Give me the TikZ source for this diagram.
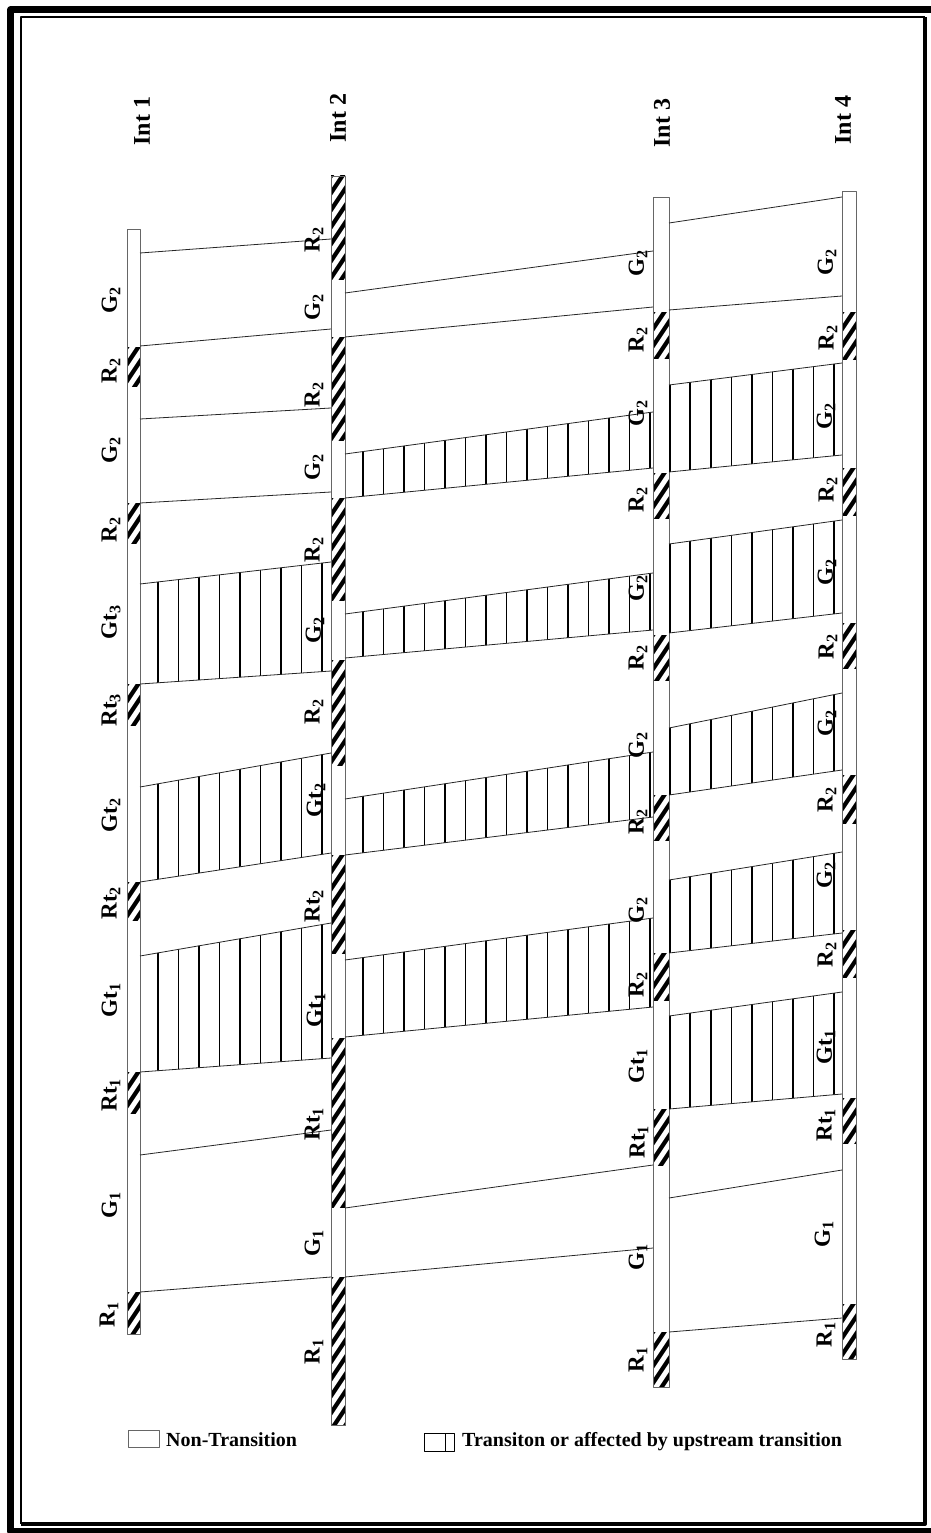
\documentclass[tikz,border=0pt]{standalone}
\usepackage{fontspec}
\setmainfont{Liberation Serif}
\tikzset{
  traj/.style={line width=0.8pt, black!85},
  barbox/.style={draw=black!60, line width=0.6pt},
  stripe/.style={line width=4.2pt, black},
  vfill/.style={line width=1.6pt, black},
  lab/.style={rotate=90, font=\fontsize{23}{23}\selectfont\bfseries, inner sep=0pt},
  intlab/.style={rotate=90, font=\fontsize{24}{24}\selectfont\bfseries, inner sep=0pt},
  legtext/.style={font=\fontsize{20}{20}\selectfont\bfseries, inner sep=0pt},
}
% hatched segment: x0 x1 y0 y1
\newcommand\hatchseg[4]{%
  \begin{scope}
  \clip (#1,#3) rectangle (#2,#4);
  \pgfmathsetmacro\hsA{#3}%
  \pgfmathsetmacro\hsB{#3+17}%
  \pgfmathsetmacro\hsC{#4+40}%
  \foreach \s in {\hsA,\hsB,...,\hsC}
    \draw[stripe] (#1-3,\s+4.5) -- (#2+3,\s-1.5*#2+1.5*#1-4.5);
  \end{scope}}
% band: xL xR t1 t2 b1 b2 {xlist}
\newcommand\band[7]{%
  \begin{scope}
  \clip (#1,#3) -- (#2,#4) -- (#2,#6) -- (#1,#5) -- cycle;
  \foreach \vx in {#7} \draw[vfill] (\vx,0) -- (\vx,1533);
  \end{scope}
  \draw[traj] (#1,#3) -- (#2,#4);
  \draw[traj] (#1,#5) -- (#2,#6);}
\newcommand\sigbar[4]{\draw[barbox] (#1,#3) rectangle (#2,#4);}
\newcommand\lab[4]{\node[lab] (#1) at (#2,#3) {#4};}
\newcommand\Gs[1]{G\textsubscript{#1}}
\newcommand\Rs[1]{R\textsubscript{#1}}
\newcommand\Gts[1]{Gt\textsubscript{#1}}
\newcommand\Rts[1]{Rt\textsubscript{#1}}
\begin{document}
\begin{tikzpicture}[x=1pt,y=-1pt,line join=round]
\useasboundingbox (0,0) rectangle (930,1533);
\fill[white] (0,0) rectangle (930,1533);
% frame
\draw[line width=7pt] (10.5,10) rectangle (940,1531);
\draw[line width=2.5pt] (925,17) -- (21,17) -- (21,1524);
\draw[line width=4pt] (21,1524) -- (925,1524) -- (925,17);

% ---------- hatching ----------
\foreach \a/\b in {347/386,503/543,684/725,882/920,1072/1113,1292/1334}
  {\hatchseg{127}{140}{\a}{\b}}
\foreach \a/\b in {176/279,337/440,498/600,660/765,855/953,1038/1207,1277/1425}
  {\hatchseg{331}{345}{\a}{\b}}
\foreach \a/\b in {312/358,473/518,635/680,795/840,953/1000,1109/1165,1332/1387}
  {\hatchseg{653}{669}{\a}{\b}}
\foreach \a/\b in {312/359,468/515,623/668,775/823,930/977,1098/1143,1304/1359}
  {\hatchseg{842}{856}{\a}{\b}}

% ---------- bars ----------
\sigbar{127}{140}{229}{1334}
\sigbar{331}{345}{176}{1425}
\sigbar{653}{669}{197}{1387}
\sigbar{842}{856}{191}{1359}

% ---------- Int1 -> Int2 ----------
\draw[traj] (140,253) -- (331,239);
\draw[traj] (140,346) -- (331,329);
\draw[traj] (140,419) -- (331,408);
\draw[traj] (140,503) -- (331,492);
\band{140}{331}{584}{562}{684}{671}{158,178.5,199,219.5,240,260.5,281,301.5,322}
\band{140}{331}{787}{753}{882}{853}{158,178.5,199,219.5,240,260.5,281,301.5,322}
\band{140}{331}{956}{923}{1072}{1058}{158,178.5,199,219.5,240,260.5,281,301.5,322}
\draw[traj] (140,1155) -- (331,1130);
\draw[traj] (140,1292) -- (331,1277);

% ---------- Int2 -> Int3 ----------
\draw[traj] (345,293) -- (653,251);
\draw[traj] (345,337) -- (653,307);
\band{345}{653}{454}{412}{498}{468}{363,383.5,404,424.5,445,465.5,486,506.5,527,547.5,568,588.5,609,629.5,650}
\band{345}{653}{614}{573}{658}{630}{363,383.5,404,424.5,445,465.5,486,506.5,527,547.5,568,588.5,609,629.5,650}
\band{345}{653}{799}{752}{855}{817}{363,383.5,404,424.5,445,465.5,486,506.5,527,547.5,568,588.5,609,629.5,650}
\band{345}{653}{960}{918}{1037}{1007}{363,383.5,404,424.5,445,465.5,486,506.5,527,547.5,568,588.5,609,629.5,650}
\draw[traj] (345,1208) -- (653,1165);
\draw[traj] (345,1277) -- (653,1248);

% ---------- Int3 -> Int4 ----------
\draw[traj] (669,223) -- (842,197);
\draw[traj] (669,310) -- (842,296);
\band{669}{842}{385}{363}{472}{455}{669.8,690,710.7,731.3,752,772.5,793,813.5,834}
\band{669}{842}{544}{520}{633}{613}{669.8,690,710.7,731.3,752,772.5,793,813.5,834}
\band{669}{842}{728}{693}{795}{770}{669.8,690,710.7,731.3,752,772.5,793,813.5,834}
\band{669}{842}{880}{852}{953}{933}{669.8,690,710.7,731.3,752,772.5,793,813.5,834}
\band{669}{842}{1016}{992}{1109}{1094}{669.8,690,710.7,731.3,752,772.5,793,813.5,834}
\draw[traj] (669,1198) -- (842,1170);
\draw[traj] (669,1332) -- (842,1318);

% ---------- intersection titles ----------
\node[intlab] (int1) at (142,121) {Int 1};
\node[intlab] (int2) at (338,118) {Int 2};
\node[intlab] (int3) at (662,123) {Int 3};
\node[intlab] (int4) at (843,120) {Int 4};

% ---------- labels Int1 ----------
\lab{a1}{111}{300}{\Gs2}
\lab{a2}{111}{371}{\Rs2}
\lab{a3}{111}{450}{\Gs2}
\lab{a4}{111}{530}{\Rs2}
\lab{a5}{111}{622}{\Gts3}
\lab{a6}{111}{710}{\Rts3}
\lab{a7}{111}{815}{\Gts2}
\lab{a8}{111}{903}{\Rts2}
\lab{a9}{111}{1000}{\Gts1}
\lab{a10}{111}{1095}{\Rts1}
\lab{a11}{111}{1205}{\Gs1}
\lab{a12}{109}{1315}{\Rs1}
% ---------- labels Int2 ----------
\lab{b1}{314}{240}{\Rs2}
\lab{b2}{314}{307}{\Gs2}
\lab{b3}{314}{395}{\Rs2}
\lab{b4}{314}{467}{\Gs2}
\lab{b5}{314}{550}{\Rs2}
\lab{b6}{315}{630}{\Gs2}
\lab{b7}{314}{712}{\Rs2}
\lab{b8}{316}{800}{\Gts2}
\lab{b9}{314}{906}{\Rts2}
\lab{b10}{316}{1010}{\Gts1}
\lab{b11}{314}{1124}{\Rts1}
\lab{b12}{314}{1243}{\Gs1}
\lab{b13}{314}{1352}{\Rs1}
% ---------- labels Int3 ----------
\lab{c1}{638}{263}{\Gs2}
\lab{c2}{638}{340}{\Rs2}
\lab{c3}{638}{413}{\Gs2}
\lab{c4}{638}{500}{\Rs2}
\lab{c5}{638}{588}{\Gs2}
\lab{c6}{638}{658}{\Rs2}
\lab{c7}{638}{745}{\Gs2}
\lab{c8}{638}{822}{\Rs2}
\lab{c9}{638}{910}{\Gs2}
\lab{c10}{638}{985}{\Rs2}
\lab{c11}{638}{1066}{\Gts1}
\lab{c12}{639}{1142}{\Rts1}
\lab{c13}{638}{1257}{\Gs1}
\lab{c14}{638}{1360}{\Rs1}
% ---------- labels Int4 ----------
\lab{d1}{827}{262}{\Gs2}
\lab{d2}{828}{338}{\Rs2}
\lab{d3}{826}{416}{\Gs2}
\lab{d4}{828}{490}{\Rs2}
\lab{d5}{827}{572}{\Gs2}
\lab{d6}{828}{647}{\Rs2}
\lab{d7}{827}{723}{\Gs2}
\lab{d8}{827}{800}{\Rs2}
\lab{d9}{826}{875}{\Gs2}
\lab{d10}{827}{955}{\Rs2}
\lab{d11}{826}{1047}{\Gts1}
\lab{d12}{826}{1125}{\Rts1}
\lab{d13}{824}{1234}{\Gs1}
\lab{d14}{826}{1335}{\Rs1}

% ---------- legend ----------
\draw[barbox] (128,1430) rectangle (159,1447);
\node[legtext,anchor=west] (leg1) at (166,1440) {Non-Transition};
\draw[line width=1pt] (424,1433) rectangle (454,1451);
\draw[line width=1pt] (445,1433) -- (445,1451);
\node[legtext,anchor=west] (leg2) at (462,1442) {Transiton or affected by upstream transition};
\end{tikzpicture}
\end{document}
